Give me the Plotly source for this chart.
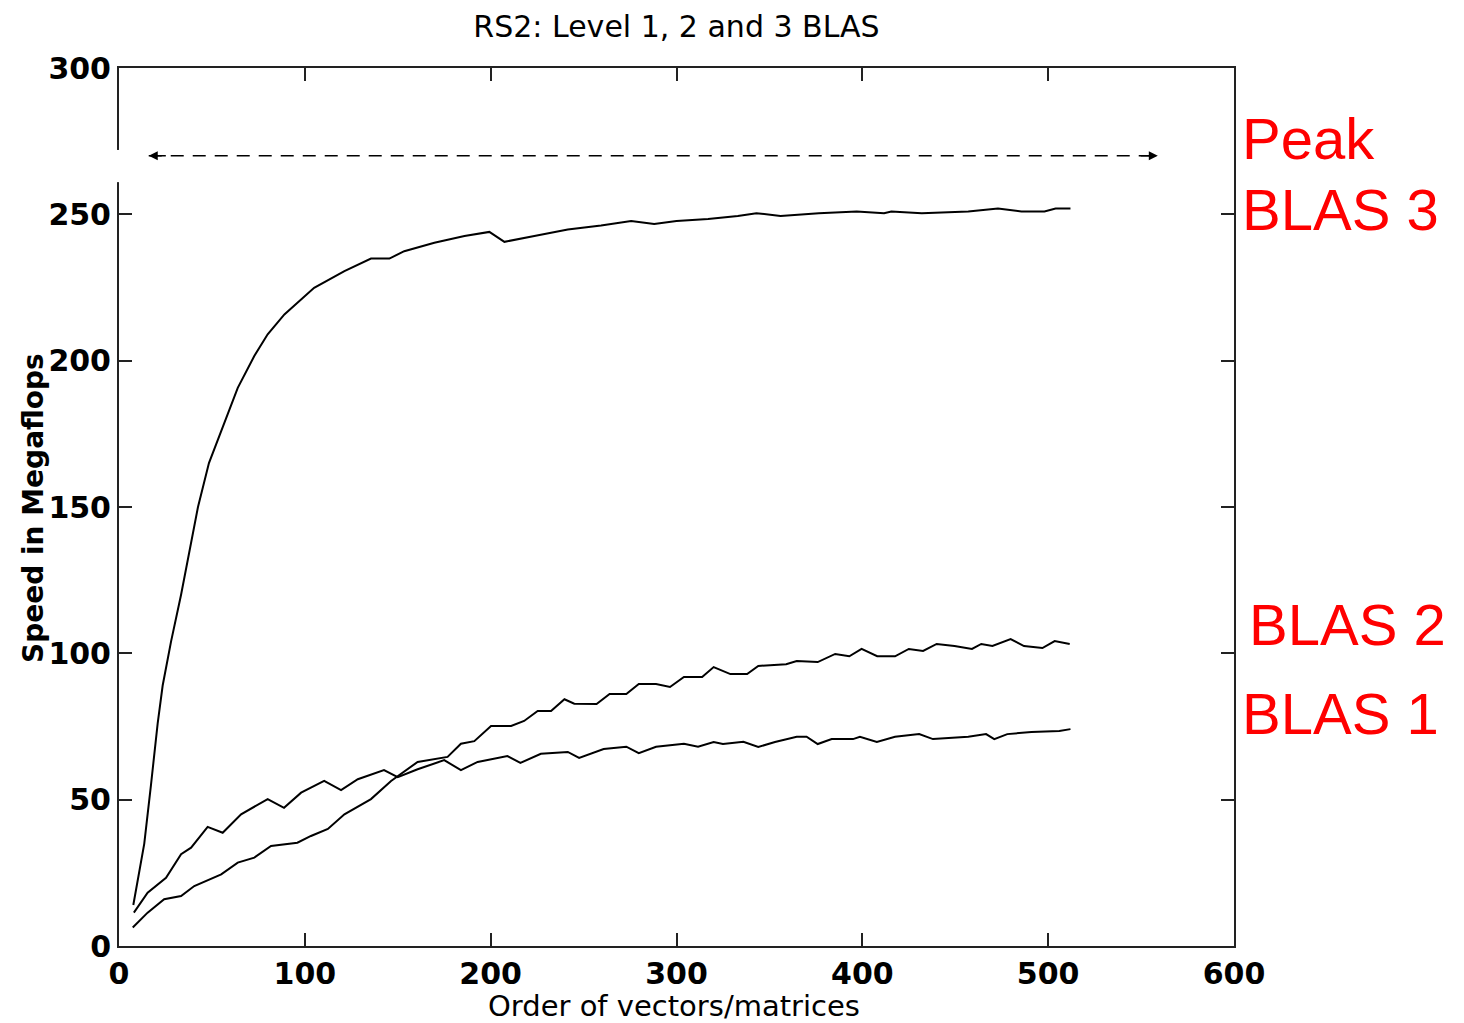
"""RS2: velocidad de BLAS nivel 1, 2 y 3 frente al orden n."""

import plotly.graph_objects as go

# valores (orden n, Megaflops)
blas3_n = [7.7, 13.6, 17.2, 20.8, 23.5, 28, 33.4, 37.8, 42.5, 48.4, 57.6, 63.9, 72.8, 80,
           89, 98, 105, 121.3, 135.6, 145.5, 153.5, 169.7, 185.9, 199.3, 207.4, 223.5,
           241.5, 259.4, 275.6, 288, 300, 317, 333, 343, 356, 376.6, 397, 411.7, 415.6,
           432, 457, 473, 485.6, 498, 504, 512]
blas3_mflops = [14, 35, 55, 76, 89, 104, 120, 135, 150, 165, 180.5, 190.7, 201.6, 209,
                215.8, 220.9, 224.9, 230.6, 234.9, 234.9, 237.4, 240.3, 242.6, 244, 240.6,
                242.6, 244.8, 246.2, 247.7, 246.7, 247.7, 248.4, 249.4, 250.4, 249.4, 250.4,
                251, 250.4, 251, 250.4, 251, 252, 251, 251, 252, 252]

blas2_n = [7.4, 15.4, 24.3, 33.4, 40.5, 55, 63.9, 72.8, 81.8, 96, 103.3, 112.4, 121.3,
           135.6, 146.4, 160.7, 176.8, 184, 191.2, 200.2, 211, 218, 225.3, 232.5, 239.7,
           245, 257, 264, 273, 279.7, 289, 296.5, 304, 313.8, 320, 329, 338, 344, 359,
           364.7, 376, 385.4, 393, 399.6, 408, 417.6, 425, 432.7, 440, 449.6, 459, 464,
           470, 479.8, 487, 496.9, 503.5, 511.6]
blas2_mflops = [6.3, 11.4, 16, 17.1, 20.5, 24.5, 28.5, 30.2, 34.2, 35.3, 37.6, 40, 45,
                50.2, 56.4, 62.9, 64.6, 69.1, 70, 75.2, 75.2, 76.9, 80.3, 80.3, 84.3, 82.8,
                82.7, 86.1, 86.1, 89.5, 89.5, 88.5, 91.9, 91.9, 95.3, 92.9, 92.9, 95.7, 96.3,
                97.4, 97, 99.8, 99, 101.5, 99, 99, 101.5, 100.8, 103.2, 102.5, 101.5, 103.2,
                102.5, 104.9, 102.5, 101.8, 104.2, 103.2]

blas1_n = [8, 15.4, 25.3, 33.4, 38.8, 47.7, 55.8, 65.7, 80, 88.8, 98, 110.4, 119.5, 128.5,
           142.6, 150, 160.7, 175, 184, 193, 209, 216, 227, 241.5, 247.6, 260.8, 273,
           279.7, 289, 304, 311.6, 320, 325, 336, 344, 353, 364.7, 370, 376, 383.5, 395,
           398.7, 407.8, 417.6, 430.6, 438, 457, 466.6, 471, 478, 491, 506, 512]
blas1_mflops = [11.4, 18.2, 23.3, 31.4, 33.6, 40.7, 38.7, 45, 50.2, 47.2, 52.4, 56.4, 53.3,
                57, 60.1, 57.7, 60.4, 63.5, 60.1, 62.9, 64.9, 62.6, 65.7, 66.3, 64.3, 67.3,
                68.1, 65.9, 68.1, 69.1, 68.1, 69.7, 69, 69.8, 68, 69.7, 71.5, 71.5, 69, 70.7,
                70.7, 71.5, 69.7, 71.5, 72.4, 70.7, 71.5, 72.4, 70.7, 72.4, 73.1, 73.5, 74.1]

peak_n = [16, 559]
peak_mflops = [270, 270]

x_ticks = [0, 100, 200, 300, 400, 500, 600]
y_ticks = [0, 50, 100, 150, 200, 250, 300]

# etiquetas rojas: texto, centro vertical y borde izquierdo (px de la imagen)
right_labels = [("Peak", 138, 1239), ("BLAS 3", 208, 1239),
                ("BLAS 2", 623, 1246), ("BLAS 1", 712, 1239)]

W, H = 1464, 1023
OFF = 7  # la página desplaza la figura unos px
L, R, T, B = 118 - OFF, 1233 - OFF, 67 - OFF, 945 - OFF


def to_paper(px, py):
    """px de la imagen -> coordenadas paper (relativas al área de trazado)."""
    return (px - OFF - L) / (R - L), (B - (py - OFF)) / (B - T)


fig = go.Figure()
line = dict(color="black", width=2)
for xs, ys, name in [(blas3_n, blas3_mflops, "BLAS 3"),
                     (blas2_n, blas2_mflops, "BLAS 2"),
                     (blas1_n, blas1_mflops, "BLAS 1")]:
    fig.add_trace(go.Scatter(x=xs, y=ys, mode="lines", line=line, name=name))

fig.add_trace(go.Scatter(x=peak_n, y=peak_mflops, mode="lines", name="Peak",
                         line=dict(color="black", width=1.5, dash="13px,9px")))

# puntas de flecha en los extremos de la línea de pico
for tip, tail in [(peak_n[0], peak_n[0] + 10), (peak_n[1], peak_n[1] - 10)]:
    fig.add_annotation(x=tip, y=peak_mflops[0], ax=tail, ay=peak_mflops[0],
                       xref="x", yref="y", axref="x", ayref="y", text="",
                       showarrow=True, arrowhead=2, arrowsize=1.2, arrowwidth=1.5,
                       arrowcolor="black")

for txt, yc, xl in right_labels:
    px, py = to_paper(xl, yc)
    fig.add_annotation(x=px, y=py, xref="paper", yref="paper",
                       xanchor="left", yanchor="middle", text=txt, showarrow=False,
                       font=dict(family="Liberation Sans, Arial", size=58, color="#ff0000"))

# títulos de ejes como anotaciones para fijar la posición
px, py = to_paper(33, 507)
fig.add_annotation(x=px, y=py, xref="paper", yref="paper", textangle=-90,
                   xanchor="center", yanchor="middle", text="Speed in Megaflops",
                   showarrow=False,
                   font=dict(family="DejaVu Sans", size=28, color="black", weight="bold"))
px, py = to_paper(673, 1005)
fig.add_annotation(x=px, y=py, xref="paper", yref="paper",
                   xanchor="center", yanchor="middle", text="Order of vectors/matrices",
                   showarrow=False, font=dict(family="DejaVu Sans", size=29, color="black"))

# hueco blanco en el eje izquierdo como en la imagen original
fig.add_shape(type="rect", xref="paper", yref="y", x0=-0.005, x1=0.003, y0=261, y1=272,
              fillcolor="white", line=dict(width=0), layer="above")

axis_common = dict(showline=True, linecolor="#222", linewidth=2, mirror="ticks",
                   ticks="inside", ticklen=13, tickwidth=2, tickcolor="#222",
                   showgrid=False, zeroline=False,
                   tickfont=dict(family="DejaVu Sans", size=30, color="black",
                                 weight="bold"))

fig.update_xaxes(range=[0, 600], tickvals=x_ticks, **axis_common)
fig.update_yaxes(range=[0, 300], tickvals=y_ticks, **axis_common)

fig.update_layout(
    width=W, height=H,
    margin=dict(l=L, r=W - R, t=T, b=H - B),
    paper_bgcolor="white", plot_bgcolor="white",
    showlegend=False,
    title=dict(text="RS2: Level 1, 2 and 3 BLAS", x=(L + R) / 2 / W, xanchor="center",
               y=1 - (25 - OFF) / H, yanchor="middle",
               font=dict(family="DejaVu Sans", size=30, color="black")),
)

fig.write_html("out.html")
